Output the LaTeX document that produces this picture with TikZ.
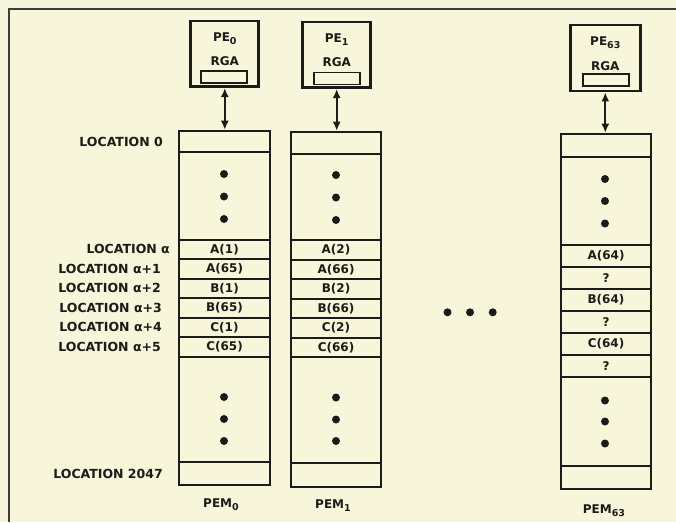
\documentclass[tikz,border=0pt]{standalone}
\usepackage{fontspec}
\setmainfont{DejaVu Sans}
\usetikzlibrary{arrows.meta}
\definecolor{paper}{RGB}{248,246,218}
\definecolor{ink}{RGB}{30,26,26}
\newcommand\mysub[1]{\raisebox{-3pt}{\fontsize{9.5}{9.5}\selectfont #1}}
\begin{document}
\begin{tikzpicture}[x=1pt,y=-1pt,
  every node/.style={text=ink, inner sep=0pt, font=\bfseries\fontsize{12}{14}\selectfont},
  colbox/.style={draw=ink, line width=2.6pt},
  sepline/.style={draw=ink, line width=2pt},
  pebox/.style={draw=ink, line width=2.8pt},
  reg/.style={draw=ink, line width=1.8pt, minimum width=46pt, minimum height=12pt},
  bigdot/.style={circle, fill=ink, minimum size=8pt},
  link/.style={{Latex[length=9pt,width=8pt]}-{Latex[length=9pt,width=8pt]}, line width=2.2pt, draw=ink},
  loc/.style={anchor=east, font=\bfseries\fontsize{12.5}{14}\selectfont},
  celltxt/.style={font=\bfseries\fontsize{12}{14}\selectfont},
]
\fill[paper] (0,0) rectangle (676,522);
\useasboundingbox (0,0) rectangle (676,522);
\draw[ink!85, line width=2.2pt] (9,522) -- (9,9) -- (676,9);

% ---------- PE boxes ----------
\node[pebox, minimum width=68pt, minimum height=65.7pt] (pe0) at (224.8,53.8) {};
\node[pebox, minimum width=68pt, minimum height=65.7pt] (pe1) at (336.7,54.8) {};
\node[pebox, minimum width=70pt, minimum height=66pt] (pe63) at (605.3,58) {};

\node (pe0t) at (224.8,39) {PE\mysub{0}};
\node (pe0r) at (224.8,61.5) {RGA};
\node[reg] (pe0g) at (224.3,77) {};
\node (pe1t) at (336.7,40) {PE\mysub{1}};
\node (pe1r) at (336.7,62.5) {RGA};
\node[reg] (pe1g) at (337,78.5) {};
\node (pe63t) at (605.3,43) {PE\mysub{63}};
\node (pe63r) at (605.3,66) {RGA};
\node[reg] (pe63g) at (606,80) {};

% ---------- Columns ----------
\node[colbox, minimum width=91pt, minimum height=354pt] (col0) at (224.5,308) {};
\node[colbox, minimum width=90pt, minimum height=355pt] (col1) at (336,309.5) {};
\node[colbox, minimum width=90pt, minimum height=355pt] (col63) at (606,311.5) {};

\draw[link] (pe0) -- (pe0 |- col0.north);
\draw[link] (pe1) -- (pe1 |- col1.north);
\draw[link] (pe63) -- (pe63 |- col63.north);

% separators col0
\foreach \y in {152,239.5,259,278.5,298,317.5,337,356.5,462}
  \draw[sepline] (179,\y) -- (270,\y);
% separators col1
\foreach \y in {154,240,259.5,279,298.5,318,337.5,357,463}
  \draw[sepline] (291,\y) -- (381,\y);
% separators col63
\foreach \y in {157,245,267,289,311,333,355,377,466}
  \draw[sepline] (561,\y) -- (651,\y);

% dots
\foreach \y [count=\i] in {174,196.5,219,397,419,441}
  \node[bigdot] (d0\i) at (224,\y) {};
\foreach \y [count=\i] in {175,197.5,220,397.5,419.5,441}
  \node[bigdot] (d1\i) at (336,\y) {};
\foreach \y [count=\i] in {179,201,223.5,400.5,421.5,443.5}
  \node[bigdot] (d63\i) at (605,\y) {};

% cell texts
\foreach \t/\y [count=\i] in {A(1)/249.25,A(65)/268.75,B(1)/288.25,B(65)/307.75,C(1)/327.25,C(65)/346.75}
  \node[celltxt] (c0\i) at (224.5,\y) {\t};
\foreach \t/\y [count=\i] in {A(2)/249.75,A(66)/269.25,B(2)/288.75,B(66)/308.25,C(2)/327.75,C(66)/347.25}
  \node[celltxt] (c1\i) at (336,\y) {\t};
\foreach \t/\y [count=\i] in {A(64)/256,?/278,B(64)/300,?/322,C(64)/344,?/366}
  \node[celltxt] (c63\i) at (606,\y) {\t};

% location labels
\node[loc] (l0) at (163,142) {LOCATION 0};
\node[loc] (la) at (170,249.25) {LOCATION α};
\node[loc] (la1) at (161,268.75) {LOCATION α+1};
\node[loc] (la2) at (161,288.25) {LOCATION α+2};
\node[loc] (la3) at (162,307.75) {LOCATION α+3};
\node[loc] (la4) at (162,327.25) {LOCATION α+4};
\node[loc] (la5) at (161,346.75) {LOCATION α+5};
\node[loc] (l2047) at (163,473.5) {LOCATION 2047};

% bottom labels
\node (pem0) at (221,505) {PEM\mysub{0}};
\node (pem1) at (333,506) {PEM\mysub{1}};
\node (pem63) at (604,511) {PEM\mysub{63}};

% ellipsis
\node[bigdot] (e1) at (447.5,312.3) {};
\node[bigdot] (e2) at (470,312.3) {};
\node[bigdot] (e3) at (492.7,312.3) {};
\end{tikzpicture}
\end{document}
